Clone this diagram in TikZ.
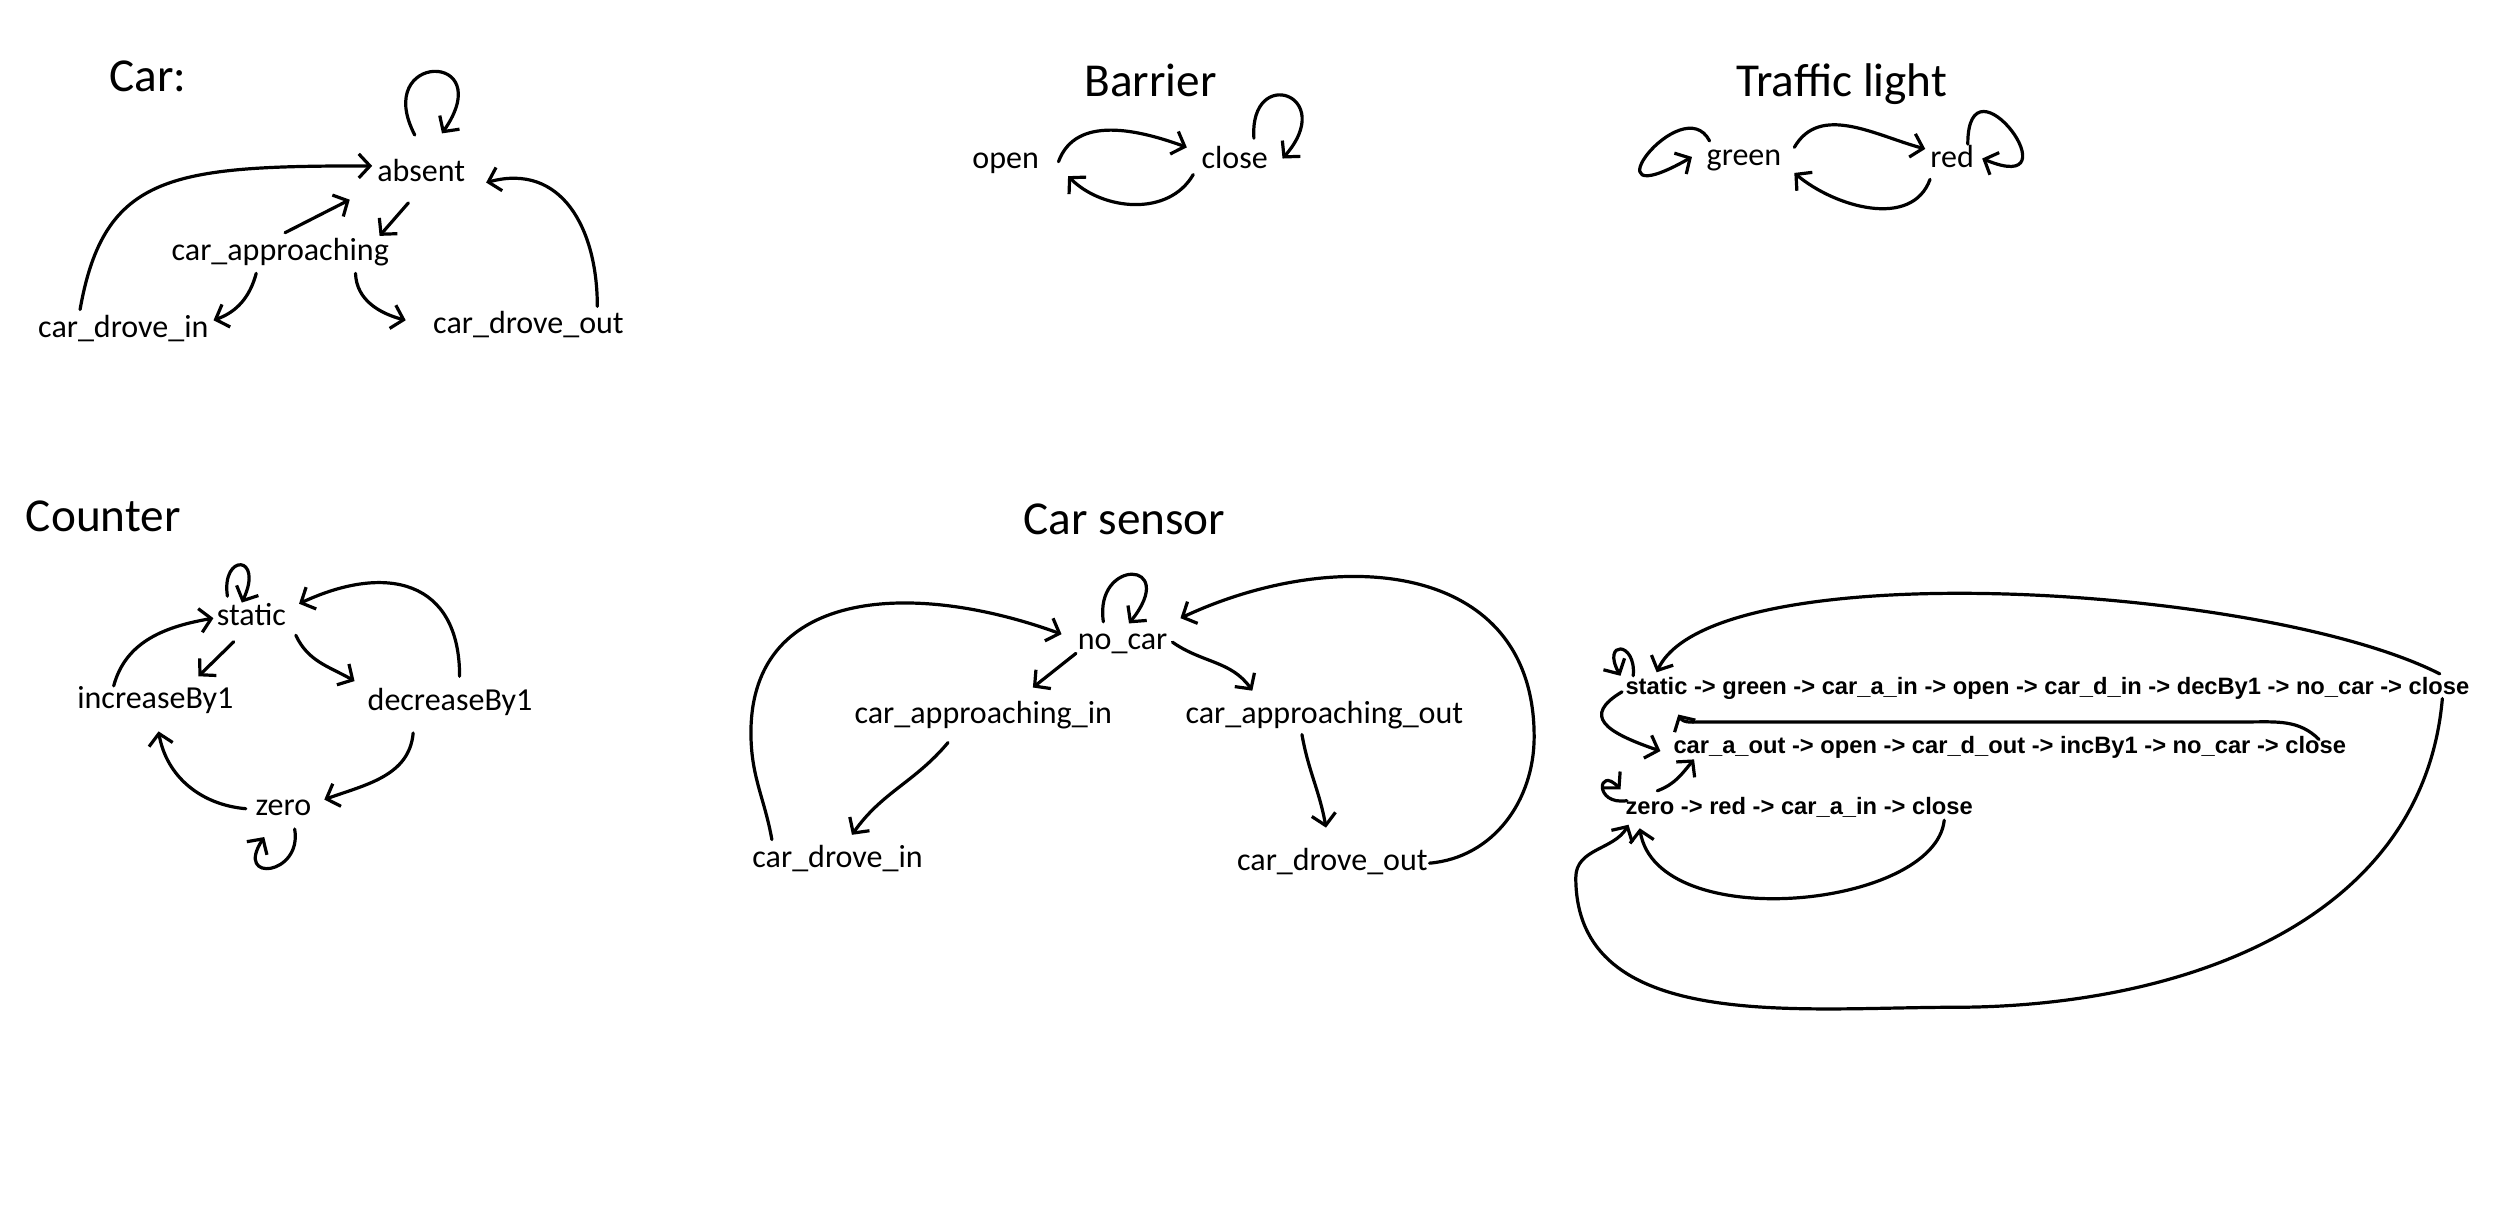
\documentclass[tikz,border=0pt]{standalone}
\usepackage{fontspec}
\setmainfont{Carlito}
\newfontfamily\seqfont{Liberation Sans}
\usetikzlibrary{arrows.meta}
\tikzset{
  st/.style={font=\fontsize{20}{24}\selectfont, inner sep=3pt, text height=14pt, text depth=5pt},
  ttl/.style={font=\fontsize{29.5}{34}\selectfont, inner sep=0pt, anchor=base west},
  sq/.style={font=\seqfont\bfseries\fontsize{14.8}{17}\selectfont, inner sep=2pt, text height=10.7pt, text depth=3.3pt},
  arr/.style={-{Straight Barb[length=7pt,width=15pt]}, line width=2pt, line cap=round, line join=round},
}
\begin{document}
\begin{tikzpicture}[x=1pt,y=1pt]
\useasboundingbox[fill=white] (0,0) rectangle (1568,-757);

% ---------------- Car ----------------
\node[ttl] (tcar) at (68,-57) {Car:};
\node[st] (absent) at (263,-109) {absent};
\node[st] (capp) at (175,-158) {car\_approaching};
\node[st] (cdi) at (77,-206) {car\_drove\_in};
\node[st] (cdo) at (330,-204) {car\_drove\_out};

\draw[arr] ([xshift=-4pt,yshift=12pt]absent.north) .. controls +(-27,52) and +(36,52) .. ([xshift=13pt,yshift=13pt]absent.north);
\draw[arr] ([xshift=-27pt]cdi.north) .. controls +(15,85) and +(-125,0) .. (absent.170);
\draw[arr] ([xshift=3pt]capp.north) -- ([xshift=-14pt,yshift=-3pt]absent.south west);
\draw[arr] ([xshift=-8pt,yshift=-5pt]absent.south) -- ([xshift=-9pt,yshift=-2pt]capp.north east);
\draw[arr] ([xshift=-15pt]capp.south) to[out=-105,in=20] ([yshift=6pt]cdi.east);
\draw[arr] ([xshift=47pt]capp.south) to[out=-88,in=165] ([xshift=-14pt,yshift=4pt]cdo.west);
\draw[arr] ([xshift=43pt]cdo.north) to[out=90,in=15,looseness=1.2] ([xshift=10pt,yshift=-5pt]absent.east);

% ---------------- Barrier ----------------
\node[ttl] (tbar) at (677,-60) {Barrier};
\node[st] (open) at (628,-101) {open};
\node[st] (close) at (771,-101) {close};

\draw[arr] ([xshift=9pt]open.east) to[out=70,in=160] ([xshift=-6pt,yshift=9pt]close.west);
\draw[arr] ([xshift=-2pt,yshift=-8pt]close.west) to[out=-120,in=-45] ([xshift=15pt,yshift=-9pt]open.east);
\draw[arr] ([xshift=12pt,yshift=2pt]close.north) .. controls +(-3,46) and +(35,40) .. ([xshift=6pt,yshift=2pt]close.east);

% ---------------- Traffic light ----------------
\node[ttl] (ttraf) at (1084,-60) {Traffic light};
\node[st] (green) at (1089,-99) {green};
\node[st] (red) at (1219,-100) {red};

\draw[arr] ([xshift=5pt,yshift=7pt]green.east) to[out=60,in=165] ([yshift=7pt]red.west);
\draw[arr] ([xshift=3pt,yshift=-12pt]red.west) to[out=-110,in=-40] ([xshift=5pt,yshift=-9pt]green.east);
\draw[arr] ([xshift=5pt,yshift=11pt]green.west) .. controls +(-17,33) and +(-70,-40) .. ([xshift=-6pt,yshift=1pt]green.west);
\draw[arr] ([xshift=-7pt,yshift=10pt]red.east) .. controls +(0,60) and +(60,-25) .. ([xshift=2pt,yshift=1pt]red.east);

% ---------------- Counter ----------------
\node[ttl] (tcnt) at (16,-332) {Counter};
\node[st] (static) at (157,-386) {static};
\node[st] (inc) at (97,-438) {increaseBy1};
\node[st] (dec) at (281,-439) {decreaseBy1};
\node[st] (zero) at (177,-505) {zero};

\draw[arr] ([xshift=-15pt,yshift=1pt]static.north) .. controls +(-4,27) and +(14,30) .. ([xshift=-6pt,yshift=-3pt]static.north);
\draw[arr] ([xshift=6pt,yshift=4pt]dec.north) to[out=90,in=25,looseness=1.4] ([xshift=5pt,yshift=9pt]static.east);
\draw[arr] ([xshift=-26pt,yshift=-3pt]inc.north) to[out=75,in=190] ([xshift=1pt]static.west);
\draw[arr] ([xshift=-11pt,yshift=-2pt]static.south) -- ([xshift=-25pt,yshift=3pt]inc.north east);
\draw[arr] ([xshift=3pt,yshift=2pt]static.south east) to[out=-65,in=150] ([xshift=-5pt,yshift=1pt]dec.north west);
\draw[arr] ([xshift=-23pt,yshift=-6pt]dec.south) to[out=-95,in=20] ([xshift=5pt,yshift=-7pt]zero.north east);
\draw[arr] ([xshift=-3pt]zero.west) to[out=175,in=-80] ([xshift=2pt,yshift=-6pt]inc.south);
\draw[arr] ([xshift=7pt,yshift=0pt]zero.south) .. controls +(5,-29) and +(-19,-29) .. ([xshift=-12pt,yshift=-5pt]zero.south);

% ---------------- Car sensor ----------------
\node[ttl] (tcs) at (639,-334) {Car sensor};
\node[st] (nocar) at (701,-401) {no\_car};
\node[st] (cain) at (614,-447) {car\_approaching\_in};
\node[st] (caout) at (827,-447) {car\_approaching\_out};
\node[st] (csdi) at (523,-537) {car\_drove\_in};
\node[st] (csdo) at (832,-539) {car\_drove\_out};
\coordinate (csR) at (958,-460);
\coordinate (csL) at (469,-462);

\draw[arr] ([xshift=-12pt]nocar.north) .. controls +(-6,40) and +(32,40) .. ([xshift=4pt,yshift=-1pt]nocar.north);
\draw[arr] ([xshift=-41pt]csdi.north) to[out=100,in=-88] (csL) to[out=92,in=160,out distance=95pt,in distance=100pt] ([xshift=-7pt,yshift=5pt]nocar.west);
\draw[arr] ([xshift=2pt,yshift=-7pt]nocar.west) -- ([xshift=31pt,yshift=5pt]cain.north);
\draw[arr] (nocar.east) to[out=-35,in=125] ([xshift=-45pt,yshift=3pt]caout.north);
\draw[arr] ([xshift=-22pt,yshift=-4pt]cain.south) to[out=-130,in=55] ([xshift=9pt,yshift=3pt]csdi.north);
\draw[arr] ([xshift=-14pt,yshift=1pt]caout.south) to[out=-80,in=100] ([xshift=-4pt,yshift=9.5pt]csdo.north);
\draw[arr] ([xshift=-2pt]csdo.east) to[out=5,in=-90] (csR) to[out=90,in=25,looseness=1.2] ([xshift=5pt,yshift=15pt]nocar.east);

% ---------------- Sequences ----------------
\node[sq] (L1) at (1278.5,-430) {static -> green -> car\_a\_in -> open -> car\_d\_in -> decBy1 -> no\_car -> close};
\node[sq] (L2) at (1255,-467) {car\_a\_out -> open -> car\_d\_out -> incBy1 -> no\_car -> close};
\node[sq] (L3) at (1123.5,-505) {zero -> red -> car\_a\_in -> close};
\coordinate (bb) at (1220,-629);
\coordinate (bl) at (984,-548);

\draw[arr] ([xshift=245pt]L1.north) to[out=153,in=65,out distance=123pt,in distance=83pt] ([xshift=-244pt,yshift=1pt]L1.north);
\draw[arr] ([xshift=7pt,yshift=8pt]L1.west) .. controls +(2,22) and +(-12,22) .. ([xshift=-1pt,yshift=8pt]L1.west);
\draw[arr] ([xshift=-19pt,yshift=-4pt]L2.north east) to[out=135,in=0] ++(-44,11) -- ++(-340,0) to[out=180,in=-60] ([xshift=-230.5pt,yshift=-7pt]L1.south);
\draw[arr] ([yshift=-2pt]L1.west) .. controls +(-25,-15) and +(-35,12) .. ([xshift=-6pt,yshift=-2pt]L2.west);
\draw[arr] ([xshift=22pt,yshift=2pt]L3.north west) to[out=20,in=-130] ([xshift=15pt,yshift=2pt]L2.south west);
\draw[arr] ([xshift=3pt,yshift=5pt]L3.west) .. controls +(-21,-3) and +(-14,15) .. ([xshift=-1pt,yshift=12pt]L3.west);
\draw[arr] ([xshift=-20pt,yshift=2pt]L3.south east) .. controls +(-6,-55) and +(11,-67) .. ([xshift=11pt,yshift=-3pt]L3.south west);
\draw[arr] ([xshift=-19pt,yshift=3pt]L1.south east) to[out=-95,in=0] (bb) to[out=180,in=-90] (bl) to[out=90,in=-120] ([xshift=4pt,yshift=-10pt]L3.west);
\end{tikzpicture}
\end{document}
